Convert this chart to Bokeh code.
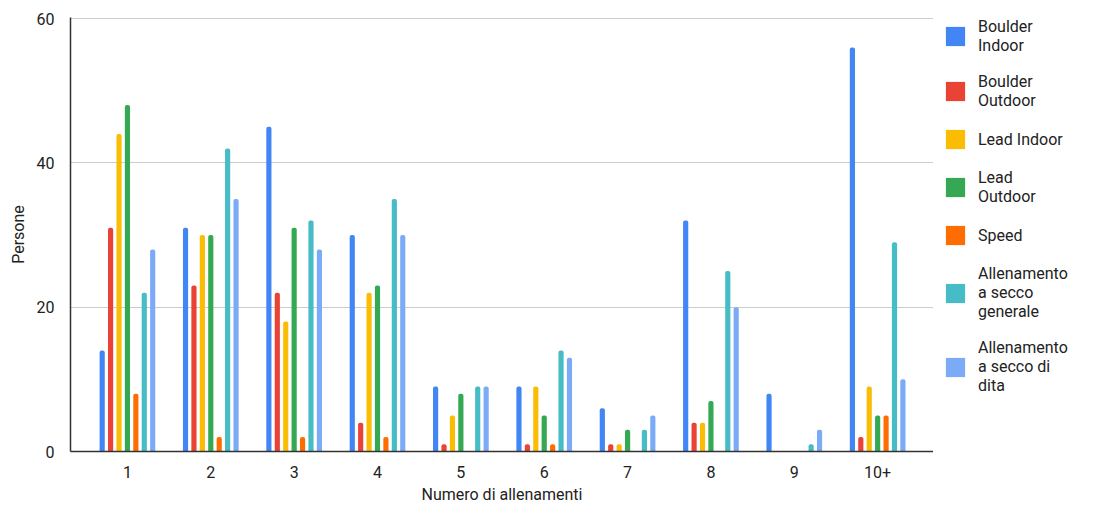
from bokeh.plotting import figure
from bokeh.models import ColumnDataSource, Range1d, FixedTicker, Legend, LegendItem
from bokeh.layouts import row
from bokeh.transform import dodge
from bokeh.embed import file_html
from bokeh.resources import INLINE

categories = ["1", "2", "3", "4", "5", "6", "7", "8", "9", "10+"]
series_names = ["Boulder\nIndoor", "Boulder\nOutdoor", "Lead Indoor", "Lead\nOutdoor", "Speed",
                "Allenamento\na secco\ngenerale", "Allenamento\na secco di\ndita"]
boulder_indoor = [14, 31, 45, 30, 9, 9, 6, 32, 8, 56]
boulder_outdoor = [31, 23, 22, 4, 1, 1, 1, 4, 0, 2]
lead_indoor = [44, 30, 18, 22, 5, 9, 1, 4, 0, 9]
lead_outdoor = [48, 30, 31, 23, 8, 5, 3, 7, 0, 5]
speed = [8, 2, 2, 2, 0, 1, 0, 0, 0, 5]
secco_generale = [22, 42, 32, 35, 9, 14, 3, 25, 1, 29]
secco_dita = [28, 35, 28, 30, 9, 13, 5, 20, 3, 10]
y_ticks = [0, 20, 40, 60]

series = [boulder_indoor, boulder_outdoor, lead_indoor, lead_outdoor, speed, secco_generale, secco_dita]
colors = ["#4285F4", "#EA4335", "#FBBC04", "#34A853", "#FF6D01", "#46BDC6", "#7BAAF7"]

xi = list(range(1, len(categories) + 1))
data = {"x": xi}
for k, s in enumerate(series):
    data[f"s{k}"] = s
source = ColumnDataSource(data)

FONT = "Roboto"
p = figure(frame_width=863, height=506, output_backend="svg", toolbar_location=None,
           x_range=Range1d(0.317, 10.67), y_range=Range1d(0, 60.14),
           min_border_left=70, min_border_right=0, min_border_top=16, min_border_bottom=55)
p.outline_line_color = None
p.background_fill_color = "white"

step = 0.101
for k, s in enumerate(series):
    p.vbar(x=dodge("x", (k - 3) * step, range=p.x_range), top=f"s{k}", width=0.062,
           source=source, fill_color=colors[k], line_color=None,
           border_radius=(2, 2, 0, 0))

p.xaxis.ticker = FixedTicker(ticks=xi)
p.xaxis.major_label_overrides = {i: c for i, c in zip(xi, categories)}
p.yaxis.ticker = FixedTicker(ticks=y_ticks)
for ax in (p.xaxis, p.yaxis):
    ax.major_tick_line_color = None
    ax.minor_tick_line_color = None
    ax.axis_line_color = "#333333"
    ax.axis_line_width = 1.5
    ax.major_label_text_font = FONT
    ax.major_label_text_font_size = "16px"
    ax.major_label_text_color = "#222222"
    ax.axis_label_text_font = FONT
    ax.axis_label_text_font_size = "16px"
    ax.axis_label_text_font_style = "normal"
    ax.axis_label_text_color = "#222222"
p.xaxis.axis_label = "Numero di allenamenti"
p.yaxis.axis_label = "Persone"
p.xaxis.major_label_standoff = 8
p.yaxis.major_label_standoff = 10
p.xaxis.axis_label_standoff = 4
p.yaxis.axis_label_standoff = 6

p.xgrid.grid_line_color = None
p.ygrid.grid_line_color = "#cccccc"
p.ygrid.grid_line_width = 1

# legend panel (swatches use the same series colours; their glyphs sit outside the view)
lg = figure(width=177, height=506, output_backend="svg", toolbar_location=None,
            x_range=Range1d(0, 1), y_range=Range1d(0, 1),
            min_border_left=10, min_border_top=17, min_border_right=0, min_border_bottom=0)
lg.axis.visible = False
lg.grid.visible = False
lg.outline_line_color = None
items = []
for k, name in enumerate(series_names):
    r = lg.rect(x=[-10], y=[-10], width=0.1, height=0.1, fill_color=colors[k], line_color=None,
                border_radius=2)
    items.append(LegendItem(label=name, renderers=[r]))
legend = Legend(items=items, location="top_left", border_line_color=None, background_fill_alpha=0,
                label_text_font=FONT, label_text_font_size="16px", label_text_color="#222222",
                glyph_width=24, glyph_height=24, label_standoff=11, spacing=17,
                padding=0, margin=0, label_height=19, label_text_line_height=1.2)
lg.add_layout(legend, "center")

layout = row(p, lg, spacing=0)
open("out.html", "w").write(file_html(layout, INLINE))
